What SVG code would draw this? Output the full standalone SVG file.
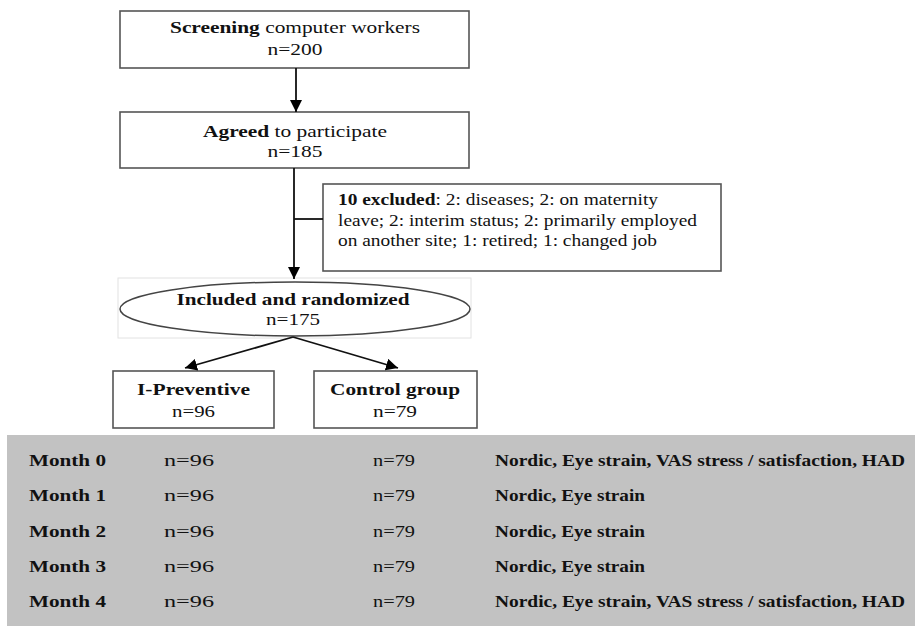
<svg xmlns="http://www.w3.org/2000/svg" width="915" height="626" viewBox="0 0 915 626">
<defs>
<marker id="ah" markerUnits="userSpaceOnUse" markerWidth="12" markerHeight="12" viewBox="0 0 10 10" refX="10" refY="5" orient="auto">
<path d="M0,0 L10,5 L0,10 z" fill="#000"/>
</marker>
</defs>
<style>
.box{fill:#fff;stroke:#555;stroke-width:1.6}
.t{font-family:"Liberation Serif","Times New Roman",serif;font-size:16px;fill:#111}
.c{text-anchor:middle}
.b{font-weight:bold}
.conn line,.conn polyline{stroke:#111;stroke-width:1.8;fill:none}
.tb{font-family:"Liberation Serif","Times New Roman",serif;font-size:16px;fill:#111}
</style>
<rect width="915" height="626" fill="#fff"/>

<g id="screening">
<rect class="box" x="120" y="11" width="349" height="57"/>
<text class="t c" x="295" y="33" textLength="250" lengthAdjust="spacingAndGlyphs"><tspan class="b">Screening</tspan> computer workers</text>
<text class="t c" x="295" y="55" textLength="55" lengthAdjust="spacingAndGlyphs">n=200</text>
</g>

<g id="agreed">
<rect class="box" x="120" y="112" width="349" height="56"/>
<text class="t c" x="295" y="137" textLength="184" lengthAdjust="spacingAndGlyphs"><tspan class="b">Agreed</tspan> to participate</text>
<text class="t c" x="295" y="157" textLength="55" lengthAdjust="spacingAndGlyphs">n=185</text>
</g>

<g id="excluded">
<rect class="box" x="323" y="184" width="398" height="87"/>
<text class="t" x="338" y="205" textLength="320" lengthAdjust="spacingAndGlyphs"><tspan class="b">10 excluded</tspan>: 2: diseases; 2: on maternity</text>
<text class="t" x="338" y="226" textLength="359" lengthAdjust="spacingAndGlyphs">leave; 2: interim status; 2: primarily employed</text>
<text class="t" x="338" y="246" textLength="319" lengthAdjust="spacingAndGlyphs">on another site; 1: retired; 1: changed job</text>
</g>

<g id="randomized">
<rect x="118" y="278" width="353" height="60" fill="#fff" stroke="#e2e2e2" stroke-width="1"/>
<ellipse cx="295" cy="309" rx="175" ry="27" fill="#fff" stroke="#444" stroke-width="1.5"/>
<text class="t c b" x="293" y="305" textLength="233" lengthAdjust="spacingAndGlyphs">Included and randomized</text>
<text class="t c" x="293" y="325" textLength="54" lengthAdjust="spacingAndGlyphs">n=175</text>
</g>

<g id="ipreventive">
<rect class="box" x="113" y="371" width="161" height="57"/>
<text class="t c b" x="193.5" y="395" textLength="113" lengthAdjust="spacingAndGlyphs">I-Preventive</text>
<text class="t c" x="193.5" y="417" textLength="43" lengthAdjust="spacingAndGlyphs">n=96</text>
</g>

<g id="control">
<rect class="box" x="314" y="371" width="163" height="57"/>
<text class="t c b" x="395" y="395" textLength="130" lengthAdjust="spacingAndGlyphs">Control group</text>
<text class="t c" x="395" y="417" textLength="44" lengthAdjust="spacingAndGlyphs">n=79</text>
</g>

<g class="conn" id="connectors">
<line x1="296" y1="68" x2="296" y2="112" marker-end="url(#ah)"/>
<line x1="294" y1="168" x2="294" y2="279" marker-end="url(#ah)"/>
<line x1="294" y1="219" x2="323" y2="219"/>
<line x1="293" y1="337" x2="185" y2="368" marker-end="url(#ah)"/>
<line x1="293" y1="337" x2="398" y2="368" marker-end="url(#ah)"/>
</g>

<g id="followup">
<rect x="7" y="435" width="908" height="191" fill="#c2c2c2"/>
<g class="tb">
<text class="b" x="29" y="466" textLength="77" lengthAdjust="spacingAndGlyphs">Month 0</text>
<text x="164" y="466" textLength="50" lengthAdjust="spacingAndGlyphs">n=96</text>
<text x="373" y="466" textLength="42" lengthAdjust="spacingAndGlyphs">n=79</text>
<text class="b" x="495" y="466" textLength="410" lengthAdjust="spacingAndGlyphs">Nordic, Eye strain, VAS stress / satisfaction, HAD</text>

<text class="b" x="29" y="501" textLength="77" lengthAdjust="spacingAndGlyphs">Month 1</text>
<text x="164" y="501" textLength="50" lengthAdjust="spacingAndGlyphs">n=96</text>
<text x="373" y="501" textLength="42" lengthAdjust="spacingAndGlyphs">n=79</text>
<text class="b" x="495" y="501" textLength="150" lengthAdjust="spacingAndGlyphs">Nordic, Eye strain</text>

<text class="b" x="29" y="537" textLength="77" lengthAdjust="spacingAndGlyphs">Month 2</text>
<text x="164" y="537" textLength="50" lengthAdjust="spacingAndGlyphs">n=96</text>
<text x="373" y="537" textLength="42" lengthAdjust="spacingAndGlyphs">n=79</text>
<text class="b" x="495" y="537" textLength="150" lengthAdjust="spacingAndGlyphs">Nordic, Eye strain</text>

<text class="b" x="29" y="572" textLength="77" lengthAdjust="spacingAndGlyphs">Month 3</text>
<text x="164" y="572" textLength="50" lengthAdjust="spacingAndGlyphs">n=96</text>
<text x="373" y="572" textLength="42" lengthAdjust="spacingAndGlyphs">n=79</text>
<text class="b" x="495" y="572" textLength="150" lengthAdjust="spacingAndGlyphs">Nordic, Eye strain</text>

<text class="b" x="29" y="607" textLength="77" lengthAdjust="spacingAndGlyphs">Month 4</text>
<text x="164" y="607" textLength="50" lengthAdjust="spacingAndGlyphs">n=96</text>
<text x="373" y="607" textLength="42" lengthAdjust="spacingAndGlyphs">n=79</text>
<text class="b" x="495" y="607" textLength="410" lengthAdjust="spacingAndGlyphs">Nordic, Eye strain, VAS stress / satisfaction, HAD</text>
</g>
</g>
</svg>
